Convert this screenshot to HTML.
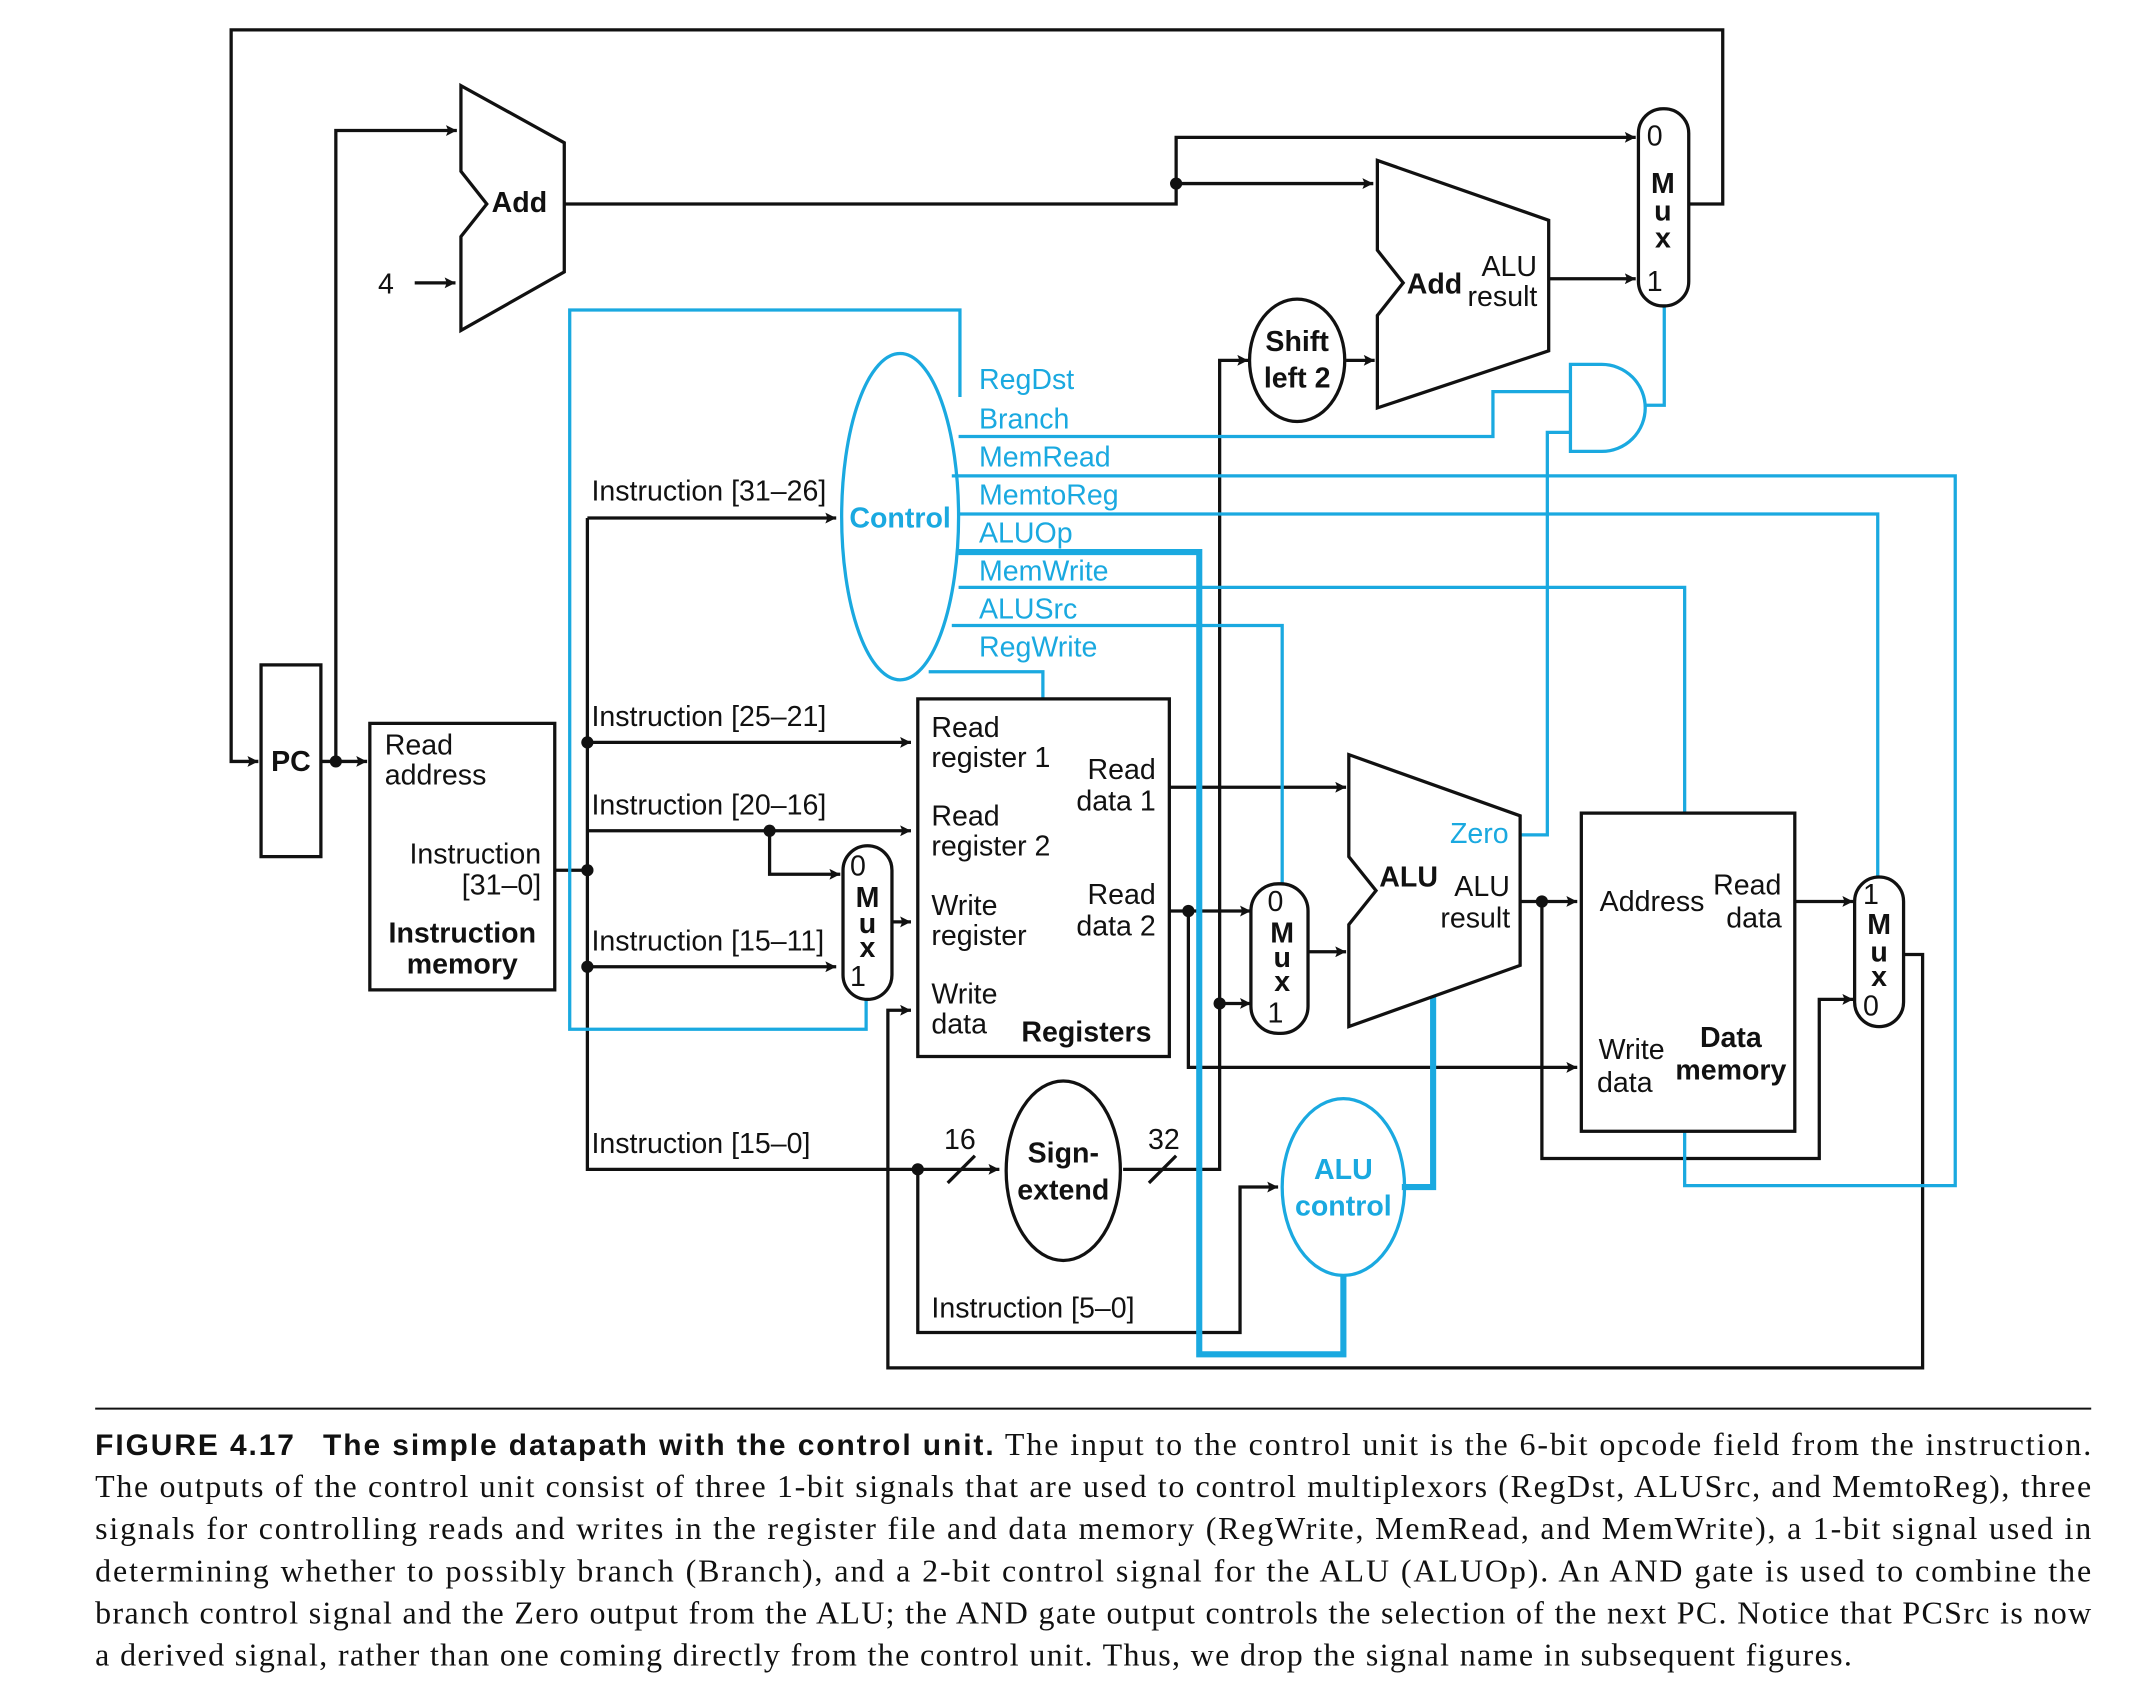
<!DOCTYPE html>
<html><head><meta charset="utf-8"><style>
html,body{margin:0;padding:0;background:#fff;}
svg{display:block;}
text{font-family:"Liberation Sans",sans-serif;}
.k{stroke:#111;stroke-width:2.4;fill:none;}
.c{stroke:#1aa9e0;stroke-width:2.4;fill:none;}
.ct{stroke:#1aa9e0;stroke-width:4.5;fill:none;}
.t{font-size:21px;fill:#111;}
.b{font-size:21px;fill:#111;font-weight:bold;}
.cl{font-size:21px;fill:#1aa9e0;}
.cb{font-size:21px;fill:#1aa9e0;font-weight:bold;}
.cap{font-family:"Liberation Serif",serif;font-size:23.5px;fill:#111;}
</style></head><body>
<svg width="2132" height="1687" viewBox="0 0 1568 1240.7" preserveAspectRatio="none" xmlns="http://www.w3.org/2000/svg">
<defs>
<marker id="a" viewBox="0 0 10 10" refX="10" refY="5" markerWidth="10" markerHeight="8" orient="auto" markerUnits="userSpaceOnUse"><path d="M0,0 L10,5 L0,10 L2,5 z" fill="#111"/></marker>
</defs>
<g class="k">
<path d="M1242,150 H1267 V22 H170 V560 H190" style="marker-end:url(#a)"/>
<path d="M236,560 H270" style="marker-end:url(#a)"/>
<path d="M247,560 V96 H336" style="marker-end:url(#a)"/>
<path d="M305,208 H335" style="marker-end:url(#a)"/>
<path d="M415,150 H865 V101 H1203" style="marker-end:url(#a)"/>
<path d="M865,135 H1010" style="marker-end:url(#a)"/>
<path d="M1139,205 H1203" style="marker-end:url(#a)"/>
<path d="M990,265 H1011" style="marker-end:url(#a)"/>
<path d="M826,860 H897 V265 H918" style="marker-end:url(#a)"/>
<path d="M897,738 H920" style="marker-end:url(#a)"/>
<path d="M408,640 H432"/>
<path d="M432,381 V860 H735" style="marker-end:url(#a)"/>
<path d="M432,381 H615" style="marker-end:url(#a)"/>
<path d="M432,546 H670" style="marker-end:url(#a)"/>
<path d="M432,611 H670" style="marker-end:url(#a)"/>
<path d="M566,611 V643 H618" style="marker-end:url(#a)"/>
<path d="M432,711 H615" style="marker-end:url(#a)"/>
<path d="M656,678 H670" style="marker-end:url(#a)"/>
<path d="M675,860 V980 H912 V873 H940" style="marker-end:url(#a)"/>
<path d="M697,870 L717,850 M845,870 L865,850"/>
<path d="M860,579 H990" style="marker-end:url(#a)"/>
<path d="M860,670 H920" style="marker-end:url(#a)"/>
<path d="M874,670 V785 H1160" style="marker-end:url(#a)"/>
<path d="M962,700 H990" style="marker-end:url(#a)"/>
<path d="M1118,663 H1160" style="marker-end:url(#a)"/>
<path d="M1134,663 V852 H1338 V735 H1363" style="marker-end:url(#a)"/>
<path d="M1320,663 H1363" style="marker-end:url(#a)"/>
<path d="M1400,702 H1414 V1006 H653 V743 H670" style="marker-end:url(#a)"/>
</g>
<g fill="#111">
<circle cx="247" cy="560" r="4.5"/><circle cx="865" cy="135" r="4.5"/>
<circle cx="432" cy="546" r="4.5"/><circle cx="432" cy="640" r="4.5"/><circle cx="432" cy="711" r="4.5"/>
<circle cx="566" cy="611" r="4.5"/><circle cx="675" cy="860" r="4.5"/>
<circle cx="874" cy="670" r="4.5"/><circle cx="897" cy="738" r="4.5"/><circle cx="1134" cy="663" r="4.5"/>
</g>
<g class="c">
<path d="M706,292 V228 H419 V757 H637 V735"/>
<path d="M1210,298 H1224 V225"/>
<path d="M705,321 H1098 V288 H1156"/>
<path d="M1118,614 H1138 V318 H1156"/>
<path d="M700,350 H1438 V872 H1239 V832"/>
<path d="M704,378 H1381 V645"/>
<path d="M705,432 H1239 V598"/>
<path d="M700,460 H943 V650"/>
<path d="M683,494 H767 V514"/>
</g>
<g class="ct">
<path d="M705,406 H882 V996 H988 V938"/>
<path d="M1054,710 V873 H1031"/>
</g>
<g class="k">
<rect x="192" y="489" width="44" height="141" fill="#fff"/>
<rect x="272" y="532" width="136" height="196" fill="#fff"/>
<rect x="675" y="514" width="185" height="263" fill="#fff"/>
<rect x="1163" y="598" width="157" height="234" fill="#fff"/>
<path d="M339,63 L415,105 L415,200 L339,243 L339,174 L358,150 L339,126 Z" fill="#fff"/>
<path d="M1013,118 L1139,162 L1139,258 L1013,300 L1013,232 L1032,208 L1013,184 Z" fill="#fff"/>
<path d="M992,555 L1118,600 L1118,710 L992,755 L992,680 L1012,655 L992,630 Z" fill="#fff"/>
<rect x="1205" y="80" width="37" height="145" rx="18" fill="#fff"/>
<rect x="620" y="622" width="36" height="113" rx="18" fill="#fff"/>
<rect x="920" y="650" width="42" height="110" rx="20" fill="#fff"/>
<rect x="1364" y="645" width="36" height="110" rx="18" fill="#fff"/>
<ellipse cx="954" cy="265" rx="35" ry="45" fill="#fff"/>
<ellipse cx="782" cy="861" rx="42" ry="66" fill="#fff"/>
</g>
<path class="c" d="M1155,268 H1178 A32,32 0 0 1 1178,332 H1155 Z" fill="#fff"/>
<ellipse class="c" cx="662" cy="380" rx="43" ry="120" fill="#fff"/>
<ellipse class="c" cx="988" cy="873" rx="45" ry="65" fill="#fff"/>
<text class="b" x="214" y="567" text-anchor="middle">PC</text>
<text class="b" x="382" y="156" text-anchor="middle">Add</text>
<text class="t" x="278" y="216">4</text>
<text class="t" x="1217" y="107" text-anchor="middle">0</text>
<text class="b" x="1223" y="142" text-anchor="middle">M</text>
<text class="b" x="1223" y="162" text-anchor="middle">u</text>
<text class="b" x="1223" y="182" text-anchor="middle">x</text>
<text class="t" x="1217" y="214" text-anchor="middle">1</text>
<text class="b" x="1055" y="216" text-anchor="middle">Add</text>
<text class="t" x="1110" y="203" text-anchor="middle">ALU</text>
<text class="t" x="1105" y="225" text-anchor="middle">result</text>
<text class="b" x="954" y="258" text-anchor="middle">Shift</text>
<text class="b" x="954" y="285" text-anchor="middle">left 2</text>
<text class="cb" x="662" y="388" text-anchor="middle">Control</text>
<text class="cl" x="720" y="286">RegDst</text>
<text class="cl" x="720" y="315">Branch</text>
<text class="cl" x="720" y="343">MemRead</text>
<text class="cl" x="720" y="371">MemtoReg</text>
<text class="cl" x="720" y="399">ALUOp</text>
<text class="cl" x="720" y="427">MemWrite</text>
<text class="cl" x="720" y="455">ALUSrc</text>
<text class="cl" x="720" y="483">RegWrite</text>
<text class="t" x="435" y="368">Instruction [31–26]</text>
<text class="t" x="435" y="534">Instruction [25–21]</text>
<text class="t" x="435" y="599">Instruction [20–16]</text>
<text class="t" x="435" y="699">Instruction [15–11]</text>
<text class="t" x="435" y="848">Instruction [15–0]</text>
<text class="t" x="685" y="969">Instruction [5–0]</text>
<text class="t" x="706" y="845" text-anchor="middle">16</text>
<text class="t" x="856" y="845" text-anchor="middle">32</text>
<text class="t" x="283" y="555">Read</text>
<text class="t" x="283" y="577">address</text>
<text class="t" x="398" y="635" text-anchor="end" font-size="22">Instruction</text>
<text class="t" x="398" y="658" text-anchor="end">[31–0]</text>
<text class="b" x="340" y="693" text-anchor="middle">Instruction</text>
<text class="b" x="340" y="716" text-anchor="middle">memory</text>
<text class="t" x="685" y="542">Read</text>
<text class="t" x="685" y="564">register 1</text>
<text class="t" x="685" y="607">Read</text>
<text class="t" x="685" y="629">register 2</text>
<text class="t" x="685" y="673">Write</text>
<text class="t" x="685" y="695">register</text>
<text class="t" x="685" y="738">Write</text>
<text class="t" x="685" y="760">data</text>
<text class="b" x="799" y="766" text-anchor="middle">Registers</text>
<text class="t" x="850" y="573" text-anchor="end" font-size="22">Read</text>
<text class="t" x="850" y="596" text-anchor="end" font-size="22">data 1</text>
<text class="t" x="850" y="665" text-anchor="end" font-size="22">Read</text>
<text class="t" x="850" y="688" text-anchor="end" font-size="22">data 2</text>
<text class="t" x="631" y="644" text-anchor="middle">0</text>
<text class="b" x="638" y="667" text-anchor="middle">M</text>
<text class="b" x="638" y="686" text-anchor="middle">u</text>
<text class="b" x="638" y="704" text-anchor="middle">x</text>
<text class="t" x="631" y="725" text-anchor="middle">1</text>
<text class="t" x="938" y="670" text-anchor="middle">0</text>
<text class="b" x="943" y="693" text-anchor="middle">M</text>
<text class="b" x="943" y="711" text-anchor="middle">u</text>
<text class="b" x="943" y="729" text-anchor="middle">x</text>
<text class="t" x="938" y="752" text-anchor="middle">1</text>
<text class="b" x="1036" y="652" text-anchor="middle">ALU</text>
<text class="t" x="1090" y="659" text-anchor="middle">ALU</text>
<text class="t" x="1085" y="682" text-anchor="middle">result</text>
<text class="cl" x="1088" y="620" text-anchor="middle">Zero</text>
<text class="cb" x="988" y="867" text-anchor="middle">ALU</text>
<text class="cb" x="988" y="894" text-anchor="middle">control</text>
<text class="b" x="782" y="855" text-anchor="middle">Sign-</text>
<text class="b" x="782" y="882" text-anchor="middle">extend</text>
<text class="t" x="1215" y="670" text-anchor="middle">Address</text>
<text class="t" x="1285" y="658" text-anchor="middle">Read</text>
<text class="t" x="1290" y="682" text-anchor="middle">data</text>
<text class="t" x="1200" y="779" text-anchor="middle">Write</text>
<text class="t" x="1195" y="803" text-anchor="middle">data</text>
<text class="b" x="1273" y="770" text-anchor="middle">Data</text>
<text class="b" x="1273" y="794" text-anchor="middle">memory</text>
<text class="t" x="1376" y="665" text-anchor="middle">1</text>
<text class="b" x="1382" y="687" text-anchor="middle">M</text>
<text class="b" x="1382" y="707" text-anchor="middle">u</text>
<text class="b" x="1382" y="725" text-anchor="middle">x</text>
<text class="t" x="1376" y="747" text-anchor="middle">0</text>
<path d="M70,1036 H1538" stroke="#111" stroke-width="1.5"/>
<text class="cap" x="70" y="1070" textLength="1468" lengthAdjust="spacing"><tspan font-family="Liberation Sans" font-weight="bold" font-size="22">FIGURE 4.17</tspan><tspan font-family="Liberation Sans" font-weight="bold" font-size="22" dx="20">The simple datapath with the control unit.</tspan> The input to the control unit is the 6-bit opcode field from the instruction.</text>
<text class="cap" x="70" y="1101" textLength="1468" lengthAdjust="spacing">The outputs of the control unit consist of three 1-bit signals that are used to control multiplexors (RegDst, ALUSrc, and MemtoReg), three</text>
<text class="cap" x="70" y="1132" textLength="1468" lengthAdjust="spacing">signals for controlling reads and writes in the register file and data memory (RegWrite, MemRead, and MemWrite), a 1-bit signal used in</text>
<text class="cap" x="70" y="1163" textLength="1468" lengthAdjust="spacing">determining whether to possibly branch (Branch), and a 2-bit control signal for the ALU (ALUOp). An AND gate is used to combine the</text>
<text class="cap" x="70" y="1194" textLength="1468" lengthAdjust="spacing">branch control signal and the Zero output from the ALU; the AND gate output controls the selection of the next PC. Notice that PCSrc is now</text>
<text class="cap" x="70" y="1225" textLength="1292" lengthAdjust="spacing">a derived signal, rather than one coming directly from the control unit. Thus, we drop the signal name in subsequent figures.</text>
</svg>
</body></html>
